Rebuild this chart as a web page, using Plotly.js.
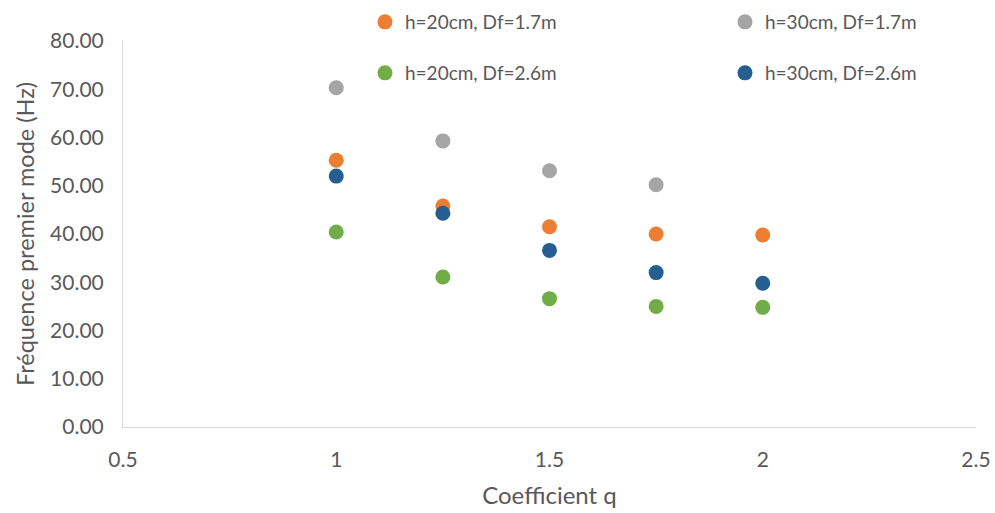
<!DOCTYPE html>
<html>
<head>
<meta charset="utf-8">
<script src="https://cdn.plot.ly/plotly-3.0.1.min.js"></script>
<style>html,body{margin:0;padding:0;background:#fff;}#chart{width:995px;height:513px;}</style>
</head>
<body>
<div id="chart"></div>
<script>
const qValues = [1, 1.25, 1.5, 1.75, 2];
const qGray = [1, 1.25, 1.5, 1.75];
const names = ["h=20cm, Df=1.7m", "h=30cm, Df=1.7m", "h=20cm, Df=2.6m", "h=30cm, Df=2.6m"];
const h20Df17 = [55.3, 45.8, 41.5, 40.0, 39.8];
const h30Df17 = [70.3, 59.3, 53.1, 50.2];
const h20Df26 = [40.4, 31.1, 26.6, 25.0, 24.8];
const h30Df26 = [52.0, 44.3, 36.6, 32.0, 29.8];
const xTicks = [0.5, 1, 1.5, 2, 2.5];
const xTickLabels = ["0.5", "1", "1.5", "2", "2.5"];
const yTicks = [0, 10, 20, 30, 40, 50, 60, 70, 80];
const yTickLabels = ["0.00", "10.00", "20.00", "30.00", "40.00", "50.00", "60.00", "70.00", "80.00"];

const font = "Lato, 'Open Sans', sans-serif";
function tr(x, y, name, color, legend) {
  return {x: x, y: y, name: name, type: 'scatter', mode: 'markers',
    marker: {color: color, size: 15}, legend: legend};
}
const data = [
  tr(qValues, h20Df17, names[0], '#ED7D31', 'legend'),
  tr(qGray, h30Df17, names[1], '#A5A5A5', 'legend2'),
  tr(qValues, h20Df26, names[2], '#70AD47', 'legend3'),
  tr(qValues, h30Df26, names[3], '#255E91', 'legend4')
];
const plotH = 513 - 86;
const legendCommon = {orientation: 'v', xanchor: 'left', yanchor: 'middle',
  font: {family: font, size: 19, color: '#595959'}, itemwidth: 30, bgcolor: 'rgba(0,0,0,0)'};
function leg(xpx, ypx) {
  return Object.assign({}, legendCommon, {x: (xpx - 123) / 853, y: (plotH - ypx) / plotH});
}
const layout = {
  width: 995, height: 513,
  margin: {l: 123, r: 19, t: 0, b: 86},
  paper_bgcolor: '#fff', plot_bgcolor: '#fff',
  font: {family: font, color: '#595959'},
  showlegend: true,
  legend: leg(365, 22),
  legend2: leg(725, 22),
  legend3: leg(365, 73),
  legend4: leg(725, 73),
  xaxis: {range: [0.5, 2.5], tickvals: xTicks, ticktext: xTickLabels,
    showgrid: false, zeroline: false, showline: true, linecolor: '#D9D9D9', linewidth: 1,
    ticks: '', ticklabelstandoff: 14, tickfont: {family: font, size: 21, color: '#595959'},
    title: {text: 'Coefficient q', font: {family: font, size: 24, color: '#595959'}, standoff: 16}},
  yaxis: {range: [0, 80], domain: [0, 386 / plotH], tickvals: yTicks, ticktext: yTickLabels,
    showgrid: false, zeroline: false, showline: true, linecolor: '#D9D9D9', linewidth: 1,
    ticks: '', ticklabelstandoff: 14, tickfont: {family: font, size: 21, color: '#595959'},
    title: {text: 'Fréquence premier mode (Hz)', font: {family: font, size: 23.5, color: '#595959'}, standoff: 8}}
};
Plotly.newPlot('chart', data, layout, {displayModeBar: false, staticPlot: true});
</script>
</body>
</html>
